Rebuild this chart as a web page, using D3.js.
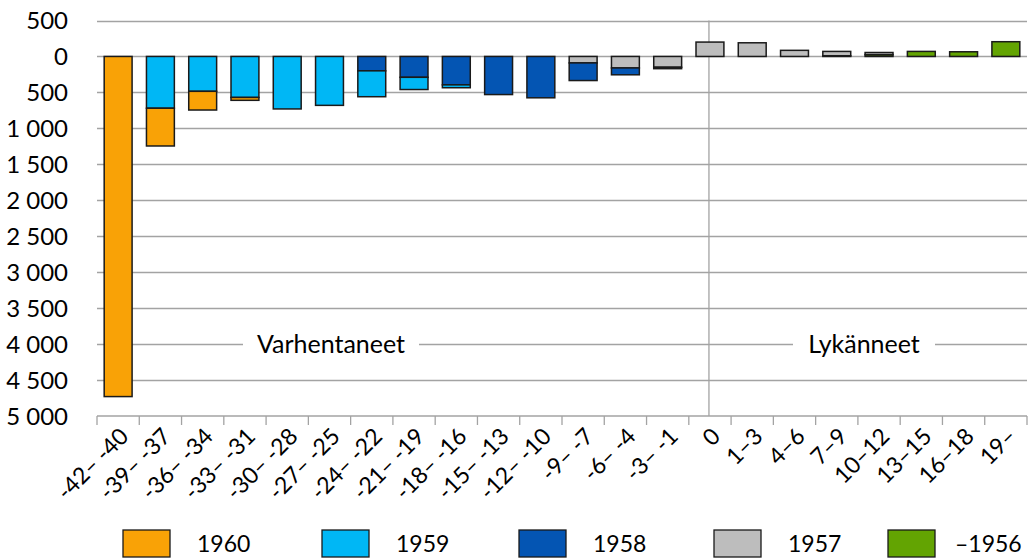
<!DOCTYPE html>
<html lang="fi">
<head>
<meta charset="UTF-8">
<title>Varhentaneet ja lykänneet</title>
<script src="https://d3js.org/d3.v7.min.js"></script>
<style>
  body { margin: 0; background: #fff; }
  text { font-family: Lato, "Open Sans", sans-serif; fill: #000; }
</style>
</head>
<body>
<script>
// categories (years advanced / postponed)
var categories = ["-42– -40", "-39– -37", "-36– -34", "-33– -31", "-30– -28", "-27– -25",
    "-24– -22", "-21– -19", "-18– -16", "-15– -13", "-12– -10", "-9– -7", "-6– -4",
    "-3– -1", "0", "1–3", "4–6", "7–9", "10–12", "13–15", "16–18", "19–"];

// series values, negative = varhentaneet, positive = lykänneet
var s1960 = [-4730, -525, -260, -40, 0, 0, 0, 0, 0, 0, 0, 0, 0, 0, 0, 0, 0, 0, 0, 0, 0, 0];
var s1959 = [0, -720, -485, -570, -730, -680, -360, -170, -40, 0, 0, 0, 0, 0, 0, 0, 0, 0, 0, 0, 0, 0];
var s1958 = [0, 0, 0, 0, 0, 0, -200, -290, -395, -530, -575, -245, -95, -20, 0, 0, 0, 0, 0, 0, 0, 0];
var s1957 = [0, 0, 0, 0, 0, 0, 0, 0, 0, 0, 0, -90, -160, -150, 200, 190, 85, 60, 30, 0, 0, 0];
var s1956 = [0, 0, 0, 0, 0, 0, 0, 0, 0, 0, 0, 0, 0, 0, 0, 0, 0, 10, 25, 70, 65, 205];

var seriesNames = ["1960", "1959", "1958", "1957", "–1956"];
var seriesColors = ["#f9a206", "#00b7f5", "#0455b3", "#bdbdbd", "#63a402"];
var yTicks = [500, 0, -500, -1000, -1500, -2000, -2500, -3000, -3500, -4000, -4500, -5000];

var w = 1031, h = 559;
var plotLeft = 97, plotRight = 1027, plotTop = 20.5, plotBottom = 416;

var svg = d3.select("body").append("svg")
    .attr("width", w)
    .attr("height", h);

var x = d3.scaleBand()
    .domain(categories)
    .range([plotLeft, plotRight])
    .paddingInner(0.34)
    .paddingOuter(0.17);

var y = d3.scaleLinear()
    .domain([500, -5000])
    .range([plotTop, plotBottom]);

// gridlines
svg.append("g")
    .selectAll("line")
    .data(yTicks.slice(0, -1))
    .enter()
    .append("line")
    .attr("x1", plotLeft)
    .attr("x2", plotRight)
    .attr("y1", function(d) { return Math.round(y(d)) + 0.5; })
    .attr("y2", function(d) { return Math.round(y(d)) + 0.5; })
    .attr("stroke", "#a3a3a3")
    .attr("stroke-width", 1.3);

// y labels (absolute values, space as thousands separator)
var fmt = d3.formatLocale({ decimal: ",", thousands: " ", grouping: [3], currency: ["", " €"] }).format(",d");
svg.append("g")
    .selectAll("text")
    .data(yTicks)
    .enter()
    .append("text")
    .attr("x", 68)
    .attr("y", function(d) { return y(d); })
    .attr("dy", "0.36em")
    .attr("text-anchor", "end")
    .style("font-size", "24px")
    .text(function(d) { return fmt(Math.abs(d)); });

// separator between the two groups
var sepX = x("0") + x.bandwidth() / 2 - 1;
svg.append("line")
    .attr("x1", sepX).attr("x2", sepX)
    .attr("y1", plotTop).attr("y2", plotBottom)
    .attr("stroke", "#a3a3a3")
    .attr("stroke-width", 1.3);

// group labels sitting on the 4000 gridline
function groupLabel(txt, cx, gapW) {
    var g = svg.append("g");
    g.append("rect")
        .attr("x", cx - gapW / 2)
        .attr("y", y(-4000) - 12)
        .attr("width", gapW)
        .attr("height", 24)
        .attr("fill", "#fff");
    g.append("text")
        .attr("x", cx)
        .attr("y", y(-4000))
        .attr("dy", "0.36em")
        .attr("text-anchor", "middle")
        .style("font-size", "25px")
        .text(txt);
}
groupLabel("Varhentaneet", 331, 176);
groupLabel("Lykänneet", 864, 142);

// stacked bars
var rows = categories.map(function(c, i) {
    return { cat: c, "1960": s1960[i], "1959": s1959[i], "1958": s1958[i], "1957": s1957[i], "–1956": s1956[i] };
});
var keys = seriesNames.slice().reverse(); // oldest next to the axis
var stacked = d3.stack()
    .keys(keys)
    .offset(d3.stackOffsetDiverging)(rows);

var color = d3.scaleOrdinal().domain(seriesNames).range(seriesColors);

svg.append("g")
    .selectAll("g")
    .data(stacked)
    .enter()
    .append("g")
    .attr("fill", function(d) { return color(d.key); })
    .selectAll("rect")
    .data(function(d) { return d.filter(function(p) { return p[1] - p[0] !== 0; }); })
    .enter()
    .append("rect")
    .attr("x", function(d) { return x(d.data.cat); })
    .attr("y", function(d) { return y(Math.max(d[0], d[1])); })
    .attr("width", x.bandwidth())
    .attr("height", function(d) { return Math.abs(y(d[0]) - y(d[1])); })
    .attr("stroke", "#1a1a1a")
    .attr("stroke-width", 1.5);

// x axis line and ticks
var xa = svg.append("g");
xa.append("line")
    .attr("x1", plotLeft).attr("x2", plotRight)
    .attr("y1", plotBottom).attr("y2", plotBottom)
    .attr("stroke", "#a3a3a3")
    .attr("stroke-width", 1.3);
xa.selectAll("line.tick")
    .data(d3.range(categories.length + 1))
    .enter()
    .append("line")
    .attr("class", "tick")
    .attr("x1", function(i) { return plotLeft + i * x.step(); })
    .attr("x2", function(i) { return plotLeft + i * x.step(); })
    .attr("y1", plotBottom)
    .attr("y2", plotBottom + 9)
    .attr("stroke", "#a3a3a3")
    .attr("stroke-width", 1.3);

xa.selectAll("text")
    .data(categories)
    .enter()
    .append("text")
    .attr("transform", function(d) {
        return "translate(" + (x(d) + x.bandwidth() / 2 + 6) + "," + (plotBottom + 16) + ") rotate(-45)";
    })
    .attr("dy", "0.36em")
    .attr("text-anchor", "end")
    .style("font-size", "23px")
    .text(function(d) { return d; });

// legend
var legendX = [123, 322, 519, 714, 888];
var lg = svg.append("g")
    .selectAll("g")
    .data(seriesNames)
    .enter()
    .append("g")
    .attr("transform", function(d, i) { return "translate(" + legendX[i] + ",530)"; });
lg.append("rect")
    .attr("width", 47)
    .attr("height", 27)
    .attr("fill", function(d) { return color(d); })
    .attr("stroke", "#1a1a1a")
    .attr("stroke-width", 1.3);
lg.append("text")
    .attr("x", function(d, i) { return i === 4 ? 67 : 74; })
    .attr("y", 14)
    .attr("dy", "0.36em")
    .style("font-size", "23px")
    .text(function(d) { return d; });
</script>
</body>
</html>
